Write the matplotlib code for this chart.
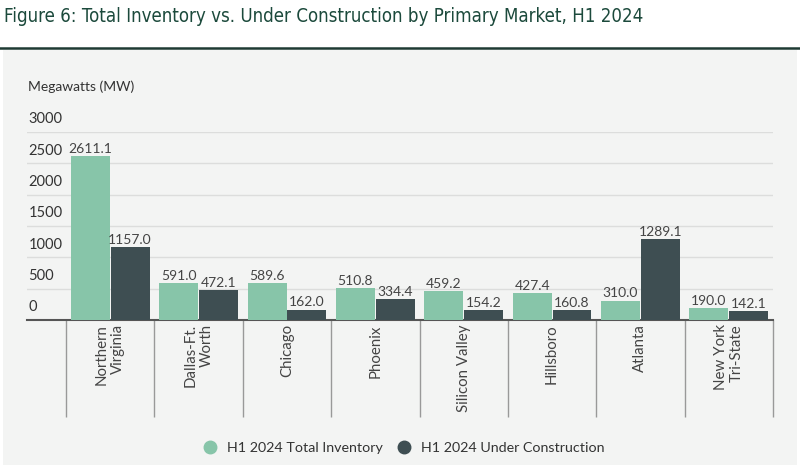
import numpy as np
import matplotlib.pyplot as plt
from matplotlib.transforms import offset_copy
from matplotlib.lines import Line2D
from matplotlib.patches import Rectangle

markets = ["Northern\nVirginia", "Dallas-Ft.\nWorth", "Chicago", "Phoenix",
           "Silicon Valley", "Hillsboro", "Atlanta", "New York\nTri-State"]
total_inventory = [2611.1, 591.0, 589.6, 510.8, 459.2, 427.4, 310.0, 190.0]
under_construction = [1157.0, 472.1, 162.0, 334.4, 154.2, 160.8, 1289.1, 142.1]
yticks = [0, 500, 1000, 1500, 2000, 2500, 3000]

green = "#87c5a9"
dark = "#3e4e52"
text_col = "#444444"
panel = "#f3f4f3"

plt.rcParams["font.family"] = ["Lato", "DejaVu Sans"]

fig = plt.figure(figsize=(8, 4.65), dpi=100)
fig.patch.set_facecolor("white")

# grey panel + rule under the title
fig.patches.append(Rectangle((3 / 800, 0), 794 / 800, 415 / 465, transform=fig.transFigure,
                             facecolor=panel, edgecolor="none", zorder=-5))
fig.add_artist(Line2D([0, 1], [417 / 465, 417 / 465], color="#1e3a33", lw=1.8))
fig.text(4 / 800, 1 - 16 / 465, "Figure 6: Total Inventory vs. Under Construction by Primary Market, H1 2024",
         family=["DejaVu Sans"], stretch="condensed", fontsize=13.4, color="#1c4a3c", va="center")
fig.text(28 / 800, 1 - 87 / 465, "Megawatts (MW)", fontsize=10, color="#333333", va="center")

ax = fig.add_axes([27 / 800, 145 / 465, 746 / 800, 188 / 465])
ax.set_facecolor("none")

x = np.arange(len(markets))
w = 0.44
b1 = ax.bar(x - 0.225, total_inventory, w, color=green, zorder=3)
b2 = ax.bar(x + 0.225, under_construction, w, color=dark, zorder=3)
for bars, vals in ((b1, total_inventory), (b2, under_construction)):
    for r, v in zip(bars, vals):
        ax.annotate(f"{v:.1f}", (r.get_x() + r.get_width() / 2, v), xytext=(0, 1),
                    textcoords="offset points", ha="center", va="bottom",
                    fontsize=10, color=text_col)

left = -0.5 - 39 / 88.3
ax.set_xlim(left, 7.5)
ax.set_ylim(0, 3000)

ax.set_yticks(yticks)
ax.set_yticklabels([])
ax.tick_params(axis="y", length=0)
ax.yaxis.grid(True, color="#dcdddc", lw=1)
ax.set_axisbelow(True)
tr = offset_copy(ax.get_yaxis_transform(), fig=fig, x=1, y=4, units="points")
for t in yticks:
    ax.text(0, t, str(t), transform=tr, ha="left", va="bottom", fontsize=10.5, color="#333333")

ax.set_xticks(x)
ax.set_xticklabels(markets, rotation=90, ha="center", va="top", multialignment="right",
                   fontsize=10.8, color=text_col)
ax.set_xticks(np.arange(-0.5, 8.5, 1), minor=True)
ax.tick_params(axis="x", which="major", length=0, pad=3)
ax.tick_params(axis="x", which="minor", length=70, width=1, color="#999999")

for s in ("top", "right", "left"):
    ax.spines[s].set_visible(False)
ax.spines["bottom"].set_color("#555555")
ax.spines["bottom"].set_linewidth(1.5)

handles = [Line2D([], [], marker="o", ls="", markersize=9, color=green),
           Line2D([], [], marker="o", ls="", markersize=9, color=dark)]
fig.legend(handles, ["H1 2024 Total Inventory", "H1 2024 Under Construction"],
           loc="center", bbox_to_anchor=(0.5, 1 - 448 / 465), ncol=2, frameon=False,
           fontsize=10.3, handletextpad=0.2, columnspacing=0.5, labelcolor="#333333")

fig.savefig("out.png", dpi=100)
